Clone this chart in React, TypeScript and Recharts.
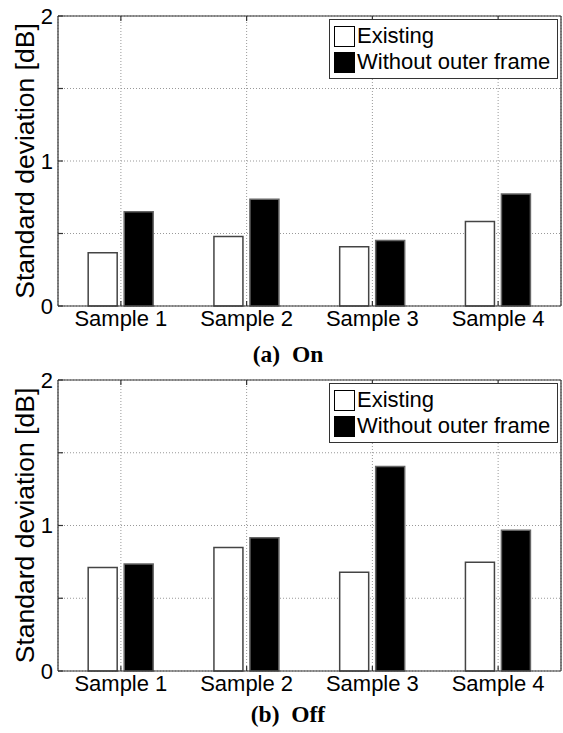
import { BarChart, Bar, XAxis, YAxis, CartesianGrid, Legend } from 'recharts';

const samples = ['Sample 1', 'Sample 2', 'Sample 3', 'Sample 4'];
const onExisting = [0.368, 0.479, 0.408, 0.583];
const onWithout = [0.65, 0.737, 0.451, 0.772];
const offExisting = [0.711, 0.849, 0.679, 0.748];
const offWithout = [0.736, 0.915, 1.406, 0.968];
const yTicks = [0, 0.5, 1, 1.5, 2];

const SANS = '"Liberation Sans", Arial, sans-serif';
const AXIS = '#333';

function LegendBox({ payload }: any) {
  return (
    <div
      style={{
        border: `1.5px solid ${AXIS}`,
        background: '#fff',
        padding: '3px 4px',
        boxSizing: 'border-box',
        fontFamily: SANS,
        fontSize: 22,
      }}
    >
      {(payload || []).map((p: any) => (
        <div key={p.value} style={{ display: 'flex', alignItems: 'center', height: 26 }}>
          <span
            style={{
              display: 'inline-block',
              width: 19,
              height: 19,
              background: p.color,
              border: '1.5px solid #000',
              marginRight: 2,
            }}
          />
          <span style={{ color: '#000', lineHeight: '26px' }}>{p.value}</span>
        </div>
      ))}
    </div>
  );
}

function YLabel({ viewBox }: any) {
  const x = 25;
  const y = viewBox.y + viewBox.height / 2;
  return (
    <text
      x={x}
      y={y}
      transform={`rotate(-90, ${x}, ${y})`}
      textAnchor="middle"
      dominantBaseline="central"
      fontFamily={SANS}
      fontSize={26.5}
      fill="#000"
    >
      Standard deviation [dB]
    </text>
  );
}

function Panel({ existing, without, height }: { existing: number[]; without: number[]; height: number }) {
  const data = samples.map((s, i) => ({
    name: s,
    Existing: existing[i],
    'Without outer frame': without[i],
  }));
  const tickStyle = { fontFamily: SANS, fontSize: 22, fill: '#000' };

  return (
    <BarChart
      width={563}
      height={height}
      data={data}
      margin={{ top: 0, right: 0, left: 0, bottom: 0 }}
      barCategoryGap="24%"
      barGap={7}
    >
      <CartesianGrid stroke="#999" strokeDasharray="1 2" />
      <XAxis
        dataKey="name"
        height={34}
        tick={tickStyle}
        tickSize={-5}
        tickMargin={9}
        stroke={AXIS}
        strokeWidth={1.2}
      />
      <XAxis
        xAxisId="top"
        dataKey="name"
        orientation="top"
        height={16}
        tickFormatter={() => ''}
        tickSize={-5}
        stroke={AXIS}
        strokeWidth={1.2}
      />
      <YAxis
        width={58}
        domain={[0, 2]}
        ticks={yTicks}
        interval={0}
        tickFormatter={(v: number) => (v % 1 === 0 ? String(v) : '')}
        tick={tickStyle}
        tickSize={-5}
        tickMargin={10}
        stroke={AXIS}
        strokeWidth={1.2}
        label={<YLabel />}
      />
      <YAxis
        yAxisId="r"
        orientation="right"
        width={2}
        domain={[0, 2]}
        ticks={yTicks}
        interval={0}
        tickFormatter={() => ''}
        tickSize={-5}
        stroke={AXIS}
        strokeWidth={1.2}
      />
      <Legend
        layout="horizontal"
        verticalAlign="middle"
        content={<LegendBox />}
        wrapperStyle={{ position: 'absolute', top: 19, left: 329, width: 229 }}
      />
      <Bar dataKey="Existing" fill="#fff" stroke="#444" strokeWidth={1.5} isAnimationActive={false} />
      <Bar dataKey="Without outer frame" fill="#000" stroke="#666" strokeWidth={1.5} isAnimationActive={false} />
    </BarChart>
  );
}

function Caption({ text, top }: { text: string; top: number }) {
  return (
    <div
      style={{
        position: 'absolute',
        top,
        left: 0,
        width: 576,
        textAlign: 'center',
        fontFamily: '"Liberation Serif", "Times New Roman", serif',
        fontWeight: 'bold',
        fontSize: 23.5,
        lineHeight: '24px',
        whiteSpace: 'pre',
      }}
    >
      {text}
    </div>
  );
}

export default function App() {
  return (
    <div style={{ position: 'absolute', top: 0, left: 0, width: 563, height: 733, background: '#fff' }}>
      <div style={{ position: 'absolute', top: 0, left: 0 }}>
        <Panel existing={onExisting} without={onWithout} height={340} />
      </div>
      <Caption text="(a)  On" top={342} />
      <div style={{ position: 'absolute', top: 364, left: 0 }}>
        <Panel existing={offExisting} without={offWithout} height={341} />
      </div>
      <Caption text="(b)  Off" top={702} />
    </div>
  );
}
